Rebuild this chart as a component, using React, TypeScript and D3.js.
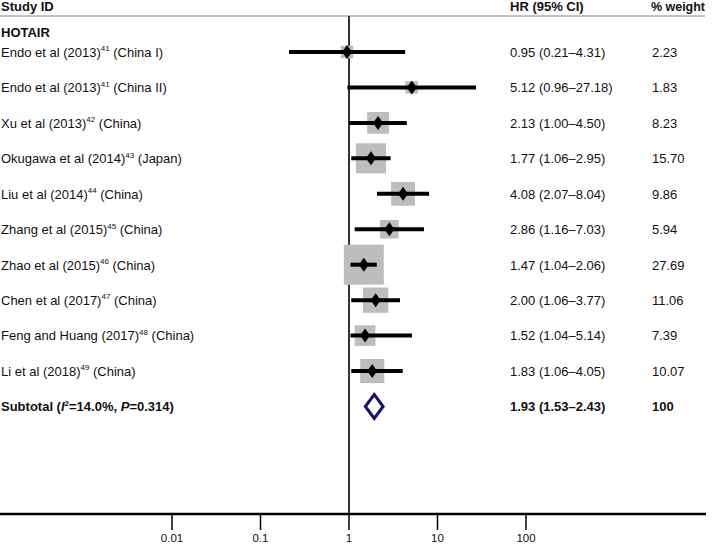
import React from "react";
import * as d3 from "d3";

const studyNames = [
  "Endo et al (2013)",
  "Endo et al (2013)",
  "Xu et al (2013)",
  "Okugawa et al (2014)",
  "Liu et al (2014)",
  "Zhang et al (2015)",
  "Zhao et al (2015)",
  "Chen et al (2017)",
  "Feng and Huang (2017)",
  "Li et al (2018)",
];
const refNums = ["41", "41", "42", "43", "44", "45", "46", "47", "48", "49"];
const regions = ["(China I)", "(China II)", "(China)", "(Japan)", "(China)", "(China)", "(China)", "(China)", "(China)", "(China)"];
const hrValues = [0.95, 5.12, 2.13, 1.77, 4.08, 2.86, 1.47, 2.0, 1.52, 1.83];
const ciLow = [0.21, 0.96, 1.0, 1.06, 2.07, 1.16, 1.04, 1.06, 1.04, 1.06];
const ciHigh = [4.31, 27.18, 4.5, 2.95, 8.04, 7.03, 2.06, 3.77, 5.14, 4.05];
const weights = [2.23, 1.83, 8.23, 15.7, 9.86, 5.94, 27.69, 11.06, 7.39, 10.07];
const hrLabels = [
  "0.95 (0.21–4.31)",
  "5.12 (0.96–27.18)",
  "2.13 (1.00–4.50)",
  "1.77 (1.06–2.95)",
  "4.08 (2.07–8.04)",
  "2.86 (1.16–7.03)",
  "1.47 (1.04–2.06)",
  "2.00 (1.06–3.77)",
  "1.52 (1.04–5.14)",
  "1.83 (1.06–4.05)",
];
const weightLabels = ["2.23", "1.83", "8.23", "15.70", "9.86", "5.94", "27.69", "11.06", "7.39", "10.07"];
const pooled = { hr: 1.93, lo: 1.53, hi: 2.43, label: "1.93 (1.53–2.43)", weight: "100" };
const tickValues = [0.01, 0.1, 1, 10, 100];
const tickLabels = ["0.01", "0.1", "1", "10", "100"];

export default function App() {
  const W = 713;
  const H = 546;
  const x = d3.scaleLog().domain([0.01, 100]).range([172, 526]);
  const rowY = d3.scaleLinear().domain([0, 10]).range([52, 406.5]);
  const boxSize = d3.scaleSqrt().domain([0, 27.69]).range([0, 40]);
  const font = "'Liberation Sans', Arial, Helvetica, sans-serif";
  const axisY = 514;
  const refX = x(1);
  const hrX = 510;
  const wX = 651;
  const fs = 13;

  return (
    <svg width={W} height={H} style={{ position: "absolute", left: 0, top: 0 }} fontFamily={font}>
      <rect x={0} y={0} width={W} height={H} fill="#fff" />
      {/* header */}
      <text x={1} y={10.5} fontSize={fs} fontWeight="bold" fill="#111">Study ID</text>
      <text x={hrX} y={10.5} fontSize={fs} fontWeight="bold" fill="#111">HR (95% CI)</text>
      <text x={wX} y={10.5} fontSize={fs} fontWeight="bold" fill="#111" textLength={54} lengthAdjust="spacingAndGlyphs">% weight</text>
      <line x1={0} x2={705} y1={16} y2={16} stroke="#888" strokeWidth={1.2} />
      <text x={1} y={36.5} fontSize={fs} fontWeight="bold" fill="#111">HOTAIR</text>

      {/* reference line */}
      <line x1={refX} x2={refX} y1={16} y2={axisY} stroke="#000" strokeWidth={1.6} />

      {/* boxes */}
      {hrValues.map((v, i) => {
        const s = Math.max(boxSize(weights[i]), 12.5);
        return (
          <rect key={"b" + i} x={x(v) - s / 2} y={rowY(i) - s / 2} width={s} height={s} fill="#bdbdbd" />
        );
      })}
      {/* CI lines and diamonds */}
      {hrValues.map((v, i) => {
        const cx = x(v);
        const cy = rowY(i);
        return (
          <g key={"c" + i}>
            <line x1={x(ciLow[i])} x2={x(ciHigh[i])} y1={cy} y2={cy} stroke="#000" strokeWidth={4} />
            <path d={`M${cx},${cy - 7}L${cx + 5},${cy}L${cx},${cy + 7}L${cx - 5},${cy}Z`} fill="#000" />
          </g>
        );
      })}

      {/* labels */}
      {studyNames.map((n, i) => (
        <text key={"l" + i} x={1} y={rowY(i) + 4.8} fontSize={fs} fill="#111">
          {n}
          <tspan fontSize={8} dy={-5.5}>{refNums[i]}</tspan>
          <tspan dy={5.5}>{" " + regions[i]}</tspan>
        </text>
      ))}
      {hrLabels.map((t, i) => (
        <text key={"h" + i} x={hrX} y={rowY(i) + 4.8} fontSize={fs} fill="#111">{t}</text>
      ))}
      {weightLabels.map((t, i) => (
        <text key={"w" + i} x={wX + 1} y={rowY(i) + 4.8} fontSize={fs} fill="#111">{t}</text>
      ))}

      {/* subtotal */}
      {(() => {
        const cy = rowY(10);
        const cx = x(pooled.hr);
        const l = x(pooled.lo);
        const r = x(pooled.hi);
        return (
          <g>
            <path d={`M${l},${cy}L${cx},${cy - 12}L${r},${cy}L${cx},${cy + 12}Z`} fill="#fff" stroke="#141466" strokeWidth={3} />
            <text x={1} y={cy + 4.8} fontSize={fs} fontWeight="bold" fill="#111">
              {"Subtotal ("}
              <tspan fontStyle="italic">I</tspan>
              <tspan fontSize={8} dy={-5.5}>2</tspan>
              <tspan dy={5.5}>{"=14.0%, "}</tspan>
              <tspan fontStyle="italic">P</tspan>
              {"=0.314)"}
            </text>
            <text x={hrX} y={cy + 4.8} fontSize={fs} fontWeight="bold" fill="#111">{pooled.label}</text>
            <text x={wX + 1} y={cy + 4.8} fontSize={fs} fontWeight="bold" fill="#111">{pooled.weight}</text>
          </g>
        );
      })()}

      {/* axis */}
      <line x1={0} x2={706} y1={axisY} y2={axisY} stroke="#000" strokeWidth={2.5} />
      {tickValues.map((t, i) => (
        <g key={"t" + i}>
          <line x1={x(t)} x2={x(t)} y1={axisY} y2={axisY + 16} stroke="#000" strokeWidth={1.5} />
          <text x={x(t)} y={542} fontSize={11.5} textAnchor="middle" fill="#111">{tickLabels[i]}</text>
        </g>
      ))}
    </svg>
  );
}
